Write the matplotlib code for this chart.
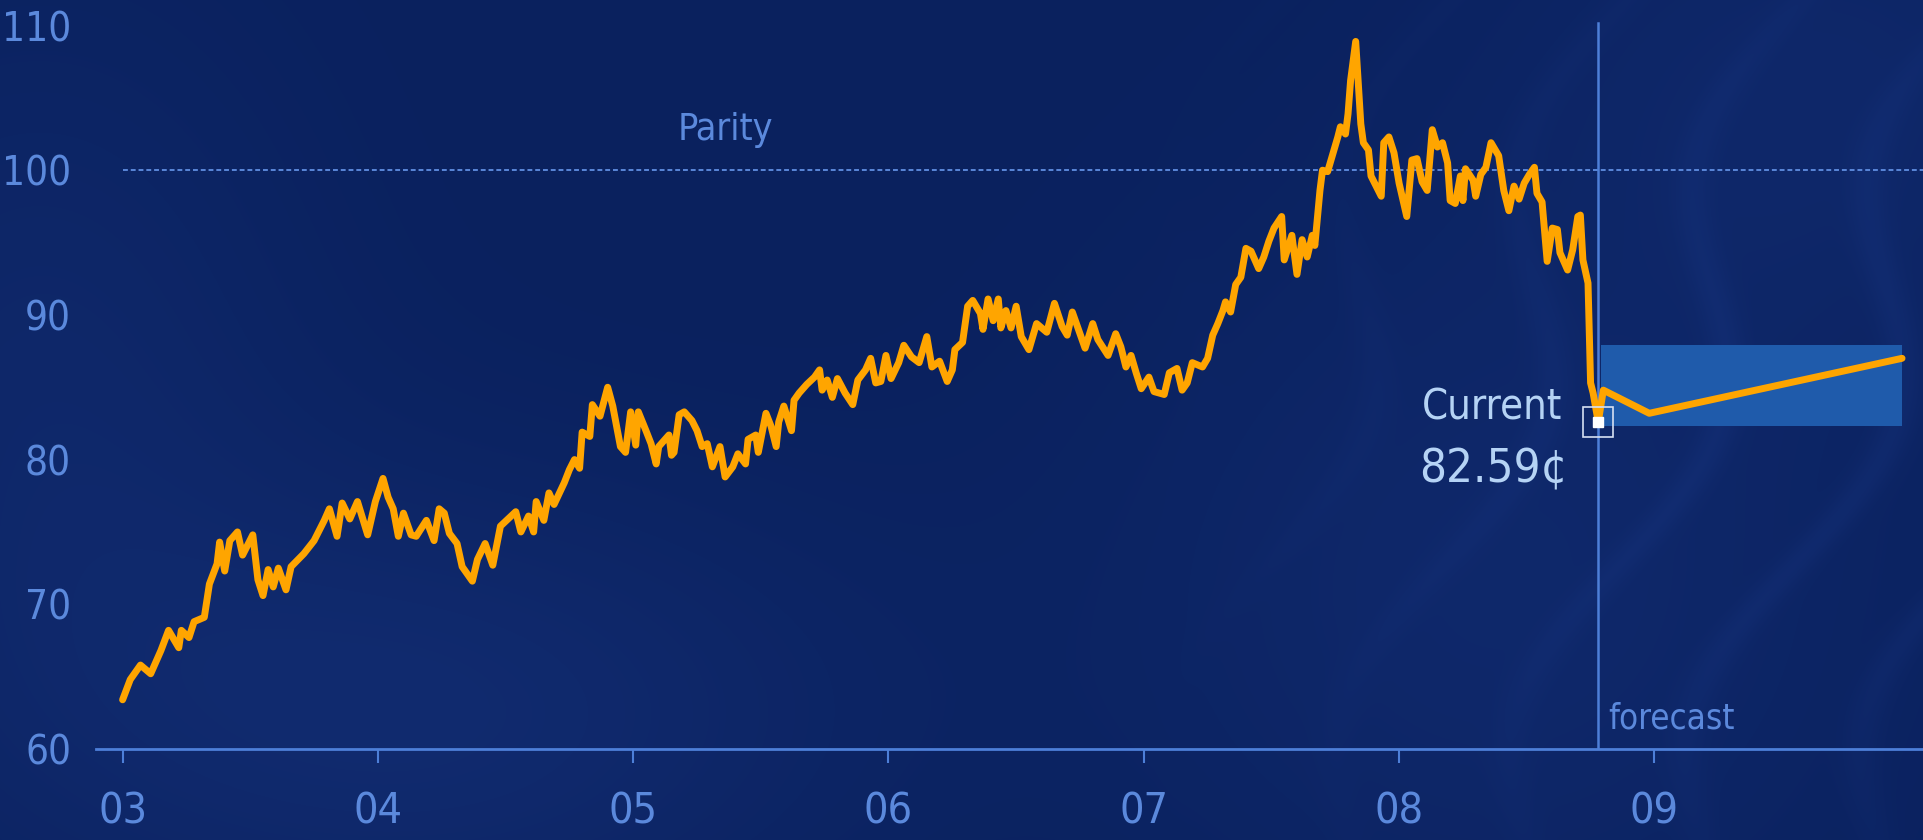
import numpy as np
import matplotlib
matplotlib.use("Agg")
import matplotlib.pyplot as plt
from matplotlib import font_manager

# AUD/USD in US cents (decimal year, value)
hist_x = [2003.00, 2003.03, 2003.07, 2003.11, 2003.15, 2003.18, 2003.22, 2003.23, 2003.26, 2003.28,
          2003.32, 2003.34, 2003.37, 2003.38, 2003.40, 2003.42, 2003.45, 2003.47, 2003.51, 2003.53,
          2003.55, 2003.57, 2003.59, 2003.61, 2003.64, 2003.66, 2003.71, 2003.75, 2003.79, 2003.81,
          2003.84, 2003.86, 2003.89, 2003.92, 2003.96, 2003.99, 2004.02, 2004.04, 2004.06, 2004.08,
          2004.10, 2004.13, 2004.15, 2004.19, 2004.22, 2004.24, 2004.26, 2004.28, 2004.31, 2004.33,
          2004.37, 2004.39, 2004.42, 2004.45, 2004.48, 2004.54, 2004.56, 2004.59, 2004.61, 2004.62,
          2004.65, 2004.67, 2004.69, 2004.73, 2004.75, 2004.77, 2004.79, 2004.80, 2004.83, 2004.84,
          2004.87, 2004.90, 2004.92, 2004.95, 2004.97, 2004.99, 2005.01, 2005.02, 2005.05, 2005.07,
          2005.09, 2005.10, 2005.14, 2005.15, 2005.16, 2005.18, 2005.20, 2005.23, 2005.25, 2005.27,
          2005.29, 2005.31, 2005.34, 2005.36, 2005.39, 2005.41, 2005.44, 2005.45, 2005.48, 2005.49,
          2005.52, 2005.54, 2005.56, 2005.57, 2005.59, 2005.62, 2005.63, 2005.65, 2005.68, 2005.71,
          2005.73, 2005.74, 2005.76, 2005.78, 2005.80, 2005.83, 2005.86, 2005.88, 2005.91, 2005.93,
          2005.95, 2005.97, 2005.99, 2006.01, 2006.04, 2006.06, 2006.09, 2006.12, 2006.15, 2006.17,
          2006.20, 2006.23, 2006.25, 2006.26, 2006.29, 2006.31, 2006.33, 2006.36, 2006.37, 2006.39,
          2006.41, 2006.43, 2006.44, 2006.46, 2006.48, 2006.50, 2006.52, 2006.55, 2006.58, 2006.62,
          2006.65, 2006.68, 2006.70, 2006.72, 2006.75, 2006.77, 2006.80, 2006.82, 2006.86, 2006.89,
          2006.91, 2006.93, 2006.95, 2006.97, 2006.99, 2007.02, 2007.04, 2007.08, 2007.10, 2007.13,
          2007.15, 2007.17, 2007.19, 2007.23, 2007.25, 2007.27, 2007.29, 2007.31, 2007.32, 2007.34,
          2007.36, 2007.38, 2007.40, 2007.42, 2007.45, 2007.47, 2007.49, 2007.51, 2007.54, 2007.55,
          2007.58, 2007.60, 2007.62, 2007.64, 2007.66, 2007.67, 2007.69, 2007.70, 2007.72, 2007.74,
          2007.76, 2007.77, 2007.79, 2007.80, 2007.81, 2007.83, 2007.84, 2007.85, 2007.86, 2007.88,
          2007.89, 2007.91, 2007.93, 2007.94, 2007.96, 2007.98, 2008.00, 2008.03, 2008.05, 2008.07,
          2008.09, 2008.11, 2008.13, 2008.15, 2008.17, 2008.19, 2008.20, 2008.22, 2008.24, 2008.25,
          2008.26, 2008.29, 2008.30, 2008.32, 2008.34, 2008.36, 2008.39, 2008.41, 2008.43, 2008.45,
          2008.47, 2008.49, 2008.51, 2008.53, 2008.54, 2008.56, 2008.58, 2008.60, 2008.62, 2008.63,
          2008.66, 2008.68, 2008.70, 2008.71, 2008.72, 2008.74, 2008.75, 2008.76, 2008.78]
hist_y = [63.4, 64.8, 65.8, 65.2, 66.8, 68.2, 67.0, 68.2, 67.7, 68.8,
          69.1, 71.4, 72.8, 74.3, 72.3, 74.4, 75.0, 73.4, 74.8, 71.7,
          70.6, 72.4, 71.2, 72.5, 71.0, 72.6, 73.5, 74.4, 75.8, 76.6,
          74.7, 77.0, 75.9, 77.1, 74.8, 77.1, 78.7, 77.4, 76.6, 74.7,
          76.3, 74.8, 74.7, 75.8, 74.4, 76.6, 76.3, 74.9, 74.2, 72.6,
          71.6, 73.1, 74.2, 72.7, 75.4, 76.4, 75.0, 76.1, 75.0, 77.1,
          75.8, 77.7, 76.9, 78.4, 79.3, 80.0, 79.4, 81.9, 81.6, 83.8,
          83.0, 85.0, 83.7, 80.9, 80.5, 83.3, 81.0, 83.3, 82.0, 81.1,
          79.7, 80.9, 81.7, 80.3, 80.5, 83.1, 83.3, 82.7, 82.0, 80.9,
          81.1, 79.5, 80.9, 78.8, 79.5, 80.4, 79.7, 81.4, 81.7, 80.5,
          83.2, 82.3, 80.9, 82.6, 83.7, 82.0, 84.1, 84.6, 85.2, 85.7,
          86.2, 84.8, 85.5, 84.3, 85.6, 84.6, 83.8, 85.5, 86.2, 87.0,
          85.3, 85.4, 87.2, 85.6, 86.7, 87.9, 87.1, 86.7, 88.5, 86.4,
          86.8, 85.4, 86.2, 87.6, 88.1, 90.6, 91.0, 90.1, 89.0, 91.1,
          89.6, 91.1, 89.1, 90.3, 89.1, 90.6, 88.5, 87.6, 89.4, 88.8,
          90.8, 89.2, 88.6, 90.2, 88.7, 87.7, 89.4, 88.3, 87.2, 88.7,
          87.8, 86.4, 87.2, 86.0, 84.9, 85.7, 84.7, 84.5, 86.0, 86.3,
          84.8, 85.3, 86.7, 86.4, 87.0, 88.6, 89.4, 90.3, 90.9, 90.2,
          92.1, 92.6, 94.6, 94.4, 93.2, 94.0, 95.1, 96.0, 96.8, 93.8,
          95.5, 92.8, 95.2, 94.0, 95.5, 94.8, 98.6, 100.0, 99.9, 101.1,
          102.3, 103.0, 102.5, 103.9, 106.2, 108.9, 106.0, 103.2, 101.9, 101.4,
          99.6, 98.9, 98.2, 101.9, 102.3, 101.2, 99.1, 96.8, 100.7, 100.8,
          99.2, 98.6, 102.8, 101.6, 101.9, 100.5, 97.9, 97.7, 99.6, 97.9,
          100.1, 99.3, 98.2, 99.7, 100.2, 101.9, 101.0, 98.6, 97.2, 98.9,
          98.0, 99.1, 99.7, 100.2, 98.4, 97.8, 93.7, 96.0, 95.9, 94.3,
          93.1, 94.5, 96.8, 96.9, 93.8, 92.2, 85.3, 84.6, 82.59]

fc_x = [2008.78, 2008.80, 2008.98, 2009.97]
fc_y = [82.59, 84.8, 83.2, 87.0]
band_x = [2008.79, 2009.97]
band_lo = 82.3
band_hi = 87.9

current_x = 2008.78
current_val = 82.59
parity = 100

year_ticks = [2003, 2004, 2005, 2006, 2007, 2008, 2009]
year_labels = ['03', '04', '05', '06', '07', '08', '09']
val_ticks = [60, 70, 80, 90, 100, 110]

# condensed font if the system has one
names = {f.name for f in font_manager.fontManager.ttflist}
cond = [f for f in font_manager.fontManager.ttflist
        if f.name == 'DejaVu Sans' and 'condensed' in str(f.stretch)]
if 'Liberation Sans Narrow' in names:
    FONT, STRETCH = 'Liberation Sans Narrow', 'normal'
elif cond:
    FONT, STRETCH = 'DejaVu Sans', 'condensed'
else:
    FONT, STRETCH = 'DejaVu Sans', 'normal'
plt.rcParams['font.family'] = [FONT]
plt.rcParams['font.stretch'] = STRETCH

W, H = 1923, 840
fig = plt.figure(figsize=(W / 100, H / 100), dpi=100)

# background: dark navy with soft lighter patches and faint streaks on the right
yy, xx = np.mgrid[0:H, 0:W]
u = xx / W
v = yy / H
img = np.zeros((H, W, 3))
img[..., 0] = 10 / 255
img[..., 1] = 33 / 255
img[..., 2] = 94 / 255
light = (0.045 * np.exp(-((u - 0.22) ** 2 / 0.05 + (v - 0.85) ** 2 / 0.08))
         + 0.03 * np.exp(-((u - 0.02) ** 2 / 0.02 + (v - 0.45) ** 2 / 0.2))
         + 0.035 * np.exp(-((u - 0.78) ** 2 / 0.04 + (v - 0.7) ** 2 / 0.2))
         + 0.03 * np.exp(-((u - 0.95) ** 2 / 0.03 + (v - 0.1) ** 2 / 0.1)))
streak = 0.5 + 0.5 * np.sin((xx * 0.93 + yy * 0.3) / 26.0 + 2.0 * np.sin(yy / 90.0))
streak = streak ** 8 * np.clip((u - 0.6) / 0.3, 0, 1) * (0.4 + 0.6 * np.sin(np.pi * v)) * 0.025
for c, k in zip(range(3), [0.55, 0.8, 1.4]):
    img[..., c] += (light + streak) * k
img = np.clip(img, 0, 1)
bg = fig.add_axes([0, 0, 1, 1])
bg.imshow(img, aspect='auto', interpolation='bilinear')
bg.axis('off')

ax = fig.add_axes([96 / W, (H - 749) / H, (W - 96) / W, 749 / H])
ax.patch.set_alpha(0)
ax.set_xlim(2003 - 26.6 / 255.3, 2003 + (W - 122.6) / 255.3)
ax.set_ylim(60, 60 + 749 / 14.47)

axis_col = '#4d7fd8'
text_col = '#5b89dc'

ax.fill_between(band_x, band_lo, band_hi, color='#1f5bab', lw=0, zorder=2)
ax.axhline(parity, xmin=(2003 - ax.get_xlim()[0]) / np.diff(ax.get_xlim())[0],
           color='#5b87d9', lw=1.4, ls=(0, (2.5, 1.5)), zorder=1)
ax.plot([current_x, current_x], [60, 110.2], color=axis_col, lw=1.8, zorder=1)

ax.plot(hist_x, hist_y, color='#ffa500', lw=5, solid_joinstyle='round',
        solid_capstyle='round', zorder=4)
ax.plot(fc_x, fc_y, color='#ffa500', lw=5, solid_joinstyle='round',
        solid_capstyle='round', zorder=4)

ax.plot(current_x, current_val, 's', ms=21, mfc='none', mec='#d6e0f2', mew=1.2, zorder=5)
ax.plot(current_x, current_val, 's', ms=7, mfc='white', mec='white', zorder=6)

ax.text(2005.36, 102.8, 'Parity', color=text_col, fontsize=27, ha='center', va='center')
ax.text(current_x + 0.04, 61.4, 'forecast', color=text_col, fontsize=25,
        ha='left', va='baseline')
ax.text(2008.64, 83.6, 'Current', color='#b5d3f5', fontsize=30, ha='right', va='center')
ax.text(2008.66, 79.3, '82.59\u00a2', color='#b5d3f5', fontsize=34, ha='right', va='center')

for s in ['top', 'right', 'left']:
    ax.spines[s].set_visible(False)
ax.spines['bottom'].set_color(axis_col)
ax.spines['bottom'].set_linewidth(2)

ax.set_xticks(year_ticks)
ax.set_xticklabels(year_labels)
ax.set_yticks(val_ticks)
ax.tick_params(axis='x', colors=axis_col, length=10, width=1.5, direction='out',
               labelsize=31, labelcolor=text_col, pad=20)
ax.tick_params(axis='y', length=0, labelsize=29, labelcolor=text_col, pad=18)

fig.savefig('out.png', dpi=100, facecolor=fig.get_facecolor())
